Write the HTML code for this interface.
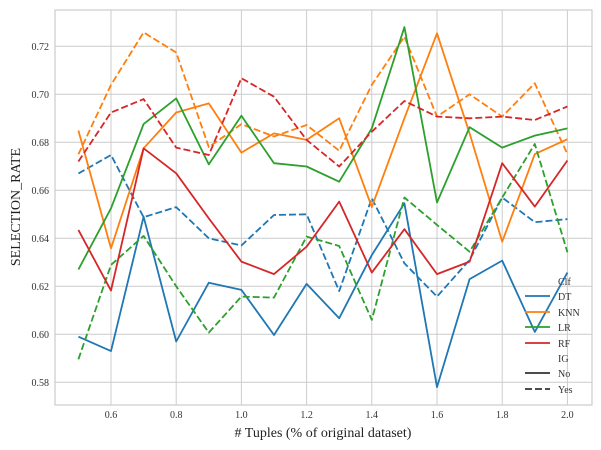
<!DOCTYPE html>
<html><head><meta charset="utf-8"><style>
body{margin:0;background:#fff;}
svg{display:block;font-family:"Liberation Serif",serif;}
</style></head><body>
<svg id="chart" width="601" height="450"></svg>
<script>
const xs=[0.5,0.6,0.7,0.8,0.9,1.0,1.1,1.2,1.3,1.4,1.5,1.6,1.7,1.8,1.9,2.0];
const dtNo=[0.599,0.593,0.649,0.597,0.6215,0.6185,0.5997,0.621,0.6067,0.633,0.6546,0.578,0.623,0.6307,0.601,0.6257];
const dtYes=[0.667,0.6747,0.6488,0.653,0.640,0.637,0.6497,0.650,0.618,0.6567,0.6296,0.6157,0.631,0.657,0.6467,0.648];
const knnNo=[0.6849,0.6358,0.6775,0.6924,0.6962,0.6757,0.6837,0.681,0.690,0.653,0.690,0.7254,0.6837,0.6386,0.6751,0.6813];
const knnYes=[0.675,0.7039,0.7258,0.7174,0.678,0.6876,0.6824,0.6872,0.6765,0.7039,0.724,0.6907,0.700,0.6907,0.7046,0.6751];
const lrNo=[0.627,0.6525,0.6876,0.6983,0.6708,0.6911,0.6713,0.6699,0.6636,0.6858,0.728,0.6549,0.6863,0.6778,0.6828,0.6858];
const lrYes=[0.5896,0.6289,0.641,0.62,0.6007,0.6157,0.6153,0.6407,0.6368,0.606,0.657,0.6456,0.6344,0.657,0.6793,0.6342];
const rfNo=[0.6435,0.6182,0.6775,0.6671,0.6483,0.6303,0.6251,0.6365,0.6553,0.6257,0.6438,0.6251,0.6303,0.6713,0.6532,0.6724];
const rfYes=[0.672,0.6924,0.698,0.6778,0.6747,0.7067,0.699,0.681,0.6699,0.6844,0.6972,0.6907,0.69,0.6907,0.6893,0.6949];
const xTicks=[0.6,0.8,1.0,1.2,1.4,1.6,1.8,2.0];
const yTicks=[0.58,0.60,0.62,0.64,0.66,0.68,0.70,0.72];

const NS="http://www.w3.org/2000/svg";
const svg=document.getElementById('chart');
const L=55,R=592,T=10,B=405;
function sx(v){return 111+(v-0.6)*326;}
function sy(v){return 46.3+(0.72-v)*2400;}
function mk(tag,attrs,parent){const e=document.createElementNS(NS,tag);for(const k in attrs)e.setAttribute(k,attrs[k]);(parent||svg).appendChild(e);return e;}

const grid=mk('g',{});


xTicks.forEach(t=>{
  const l=mk('line',{x1:sx(t),x2:sx(t),y1:T,y2:B,stroke:'#cccccc','stroke-width':1},grid);
  
  
  const tx=mk('text',{x:sx(t),y:418,'font-size':10,fill:'#333','text-anchor':'middle'});
  tx.textContent=t.toFixed(1);
  
  
});
yTicks.forEach(t=>{
  const l=mk('line',{x1:L,x2:R,y1:sy(t),y2:sy(t),stroke:'#cccccc','stroke-width':1},grid);
  
  
  const tx=mk('text',{x:49,y:sy(t)+3.5,'font-size':10,fill:'#333','text-anchor':'end'});
  tx.textContent=t.toFixed(2);
  
  
});
const frame=mk('rect',{x:L,y:T,width:R-L,height:B-T,fill:'none',stroke:'#cccccc','stroke-width':1.2});



const series=[
 ['dt-no',dtNo,'#1f77b4',false],['dt-yes',dtYes,'#1f77b4',true],
 ['knn-no',knnNo,'#ff7f0e',false],['knn-yes',knnYes,'#ff7f0e',true],
 ['lr-no',lrNo,'#2ca02c',false],['lr-yes',lrYes,'#2ca02c',true],
 ['rf-no',rfNo,'#d62728',false],['rf-yes',rfYes,'#d62728',true]];
series.forEach(s=>{
  const pts=s[1].map((v,i)=>sx(xs[i]).toFixed(1)+','+sy(v).toFixed(1)).join(' ');
  const a={points:pts,fill:'none',stroke:s[2],'stroke-width':1.8,'stroke-linejoin':'round'};
  if(s[3])a['stroke-dasharray']='7,3';
  const p=mk('polyline',a);
  
  
});

const xl=mk('text',{x:323,y:437,'font-size':14,fill:'#222','text-anchor':'middle'});
xl.textContent='# Tuples (% of original dataset)';


const yl=mk('text',{x:0,y:0,'font-size':14,fill:'#222','text-anchor':'middle',transform:'translate(20,207) rotate(-90)'});
yl.textContent='SELECTION_RATE';



const lg=mk('g',{});


const entries=[['Clf',null,false,281],['DT','#1f77b4',false,296],['KNN','#ff7f0e',false,312],['LR','#2ca02c',false,327],['RF','#d62728',false,343],['IG',null,false,358],['No','#333',false,373],['Yes','#333',true,389]];
entries.forEach(e=>{
  const t=mk('text',{x:558,y:e[3]+4,'font-size':10,fill:'#333'},lg);
  t.textContent=e[0];
  
  
  if(e[1]){
    const a={x1:525,x2:550,y1:e[3],y2:e[3],stroke:e[1],'stroke-width':1.8};
    if(e[2])a['stroke-dasharray']='7,3';
    const l=mk('line',a,lg);
    
    
  }
});
</script>
</body></html>
